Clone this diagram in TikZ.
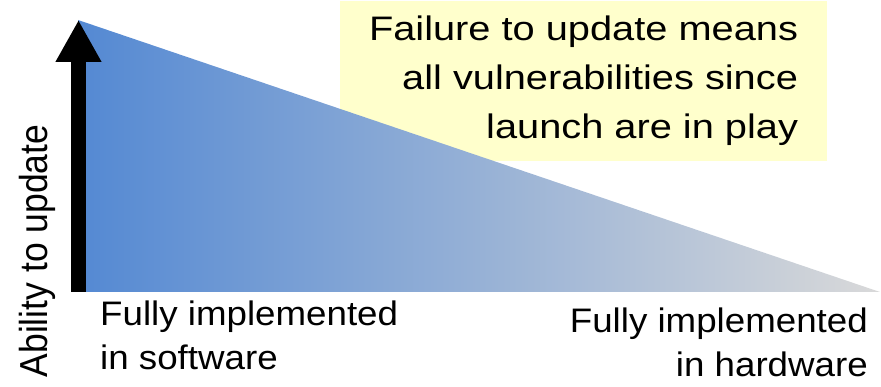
\documentclass[tikz,border=0pt]{standalone}
\usepackage{fontspec}
\setmainfont{Liberation Sans}
\newfontfamily\notefont[FakeStretch=1.17]{Liberation Sans}
\newfontfamily\endfont[FakeStretch=1.08]{Liberation Sans}
\usepackage{tikz}
\usetikzlibrary{arrows.meta, positioning}
\definecolor{swblue}{RGB}{84,137,211}
\definecolor{hwgray}{RGB}{217,217,217}
\definecolor{noteyellow}{RGB}{255,255,204}

\begin{document}
\begin{tikzpicture}[x=1pt, y=-1pt,
  notebox/.style={fill=noteyellow, inner sep=0pt, minimum width=487pt,
                  minimum height=160pt, align=right,
                  font=\notefont\fontsize{34}{49}\selectfont},
  endlab/.style={inner sep=0pt, font=\endfont\fontsize{34}{44}\selectfont},
  axlab/.style={inner sep=0pt, xscale=1.1, rotate=90, anchor=base,
                font=\fontsize{35.5}{43}\selectfont},
  updarrow/.style={line width=15pt, -{Triangle[width=43pt, length=42pt]}}]
\useasboundingbox (0,0) rectangle (881,387);
% note sits under the wedge
\node[notebox] (note) at (583.5,81) {Failure to update means\\all vulnerabilities since\\launch are in play};
\coordinate (apex) at (78,20);
\coordinate (sw) at (78,292);
\coordinate (hw) at (880,292);
\shade[left color=swblue, right color=hwgray] (apex) -- (sw) -- (hw) -- cycle;
% axis arrow
\coordinate (base) at (78.5,292);
\coordinate (tip) at (78.5,20);
\draw[updarrow] (base) -- (tip);
\node[axlab] (ability) at (47,251) {Ability to update};
% base of a two-line node is its last line
\node[endlab, align=left, anchor=base west] (soft) at (100,370) {Fully implemented\\in software};
\node[endlab, align=right, anchor=base east] (hard) at (868,377) {Fully implemented\\in hardware};
\end{tikzpicture}
\end{document}
